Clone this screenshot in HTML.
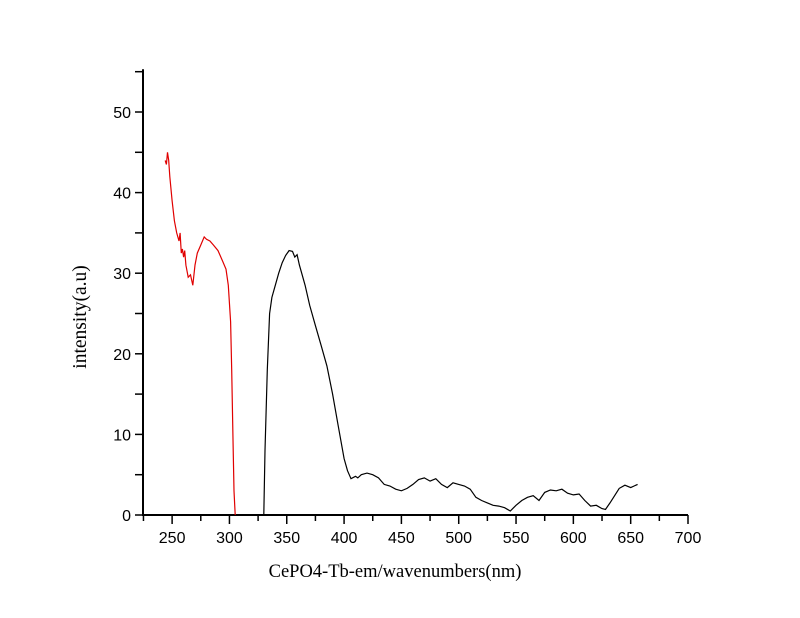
<!DOCTYPE html>
<html><head><meta charset="utf-8"><style>body{margin:0;background:#fff}svg{display:block}</style></head>
<body>
<svg id="c" width="800" height="618" xmlns="http://www.w3.org/2000/svg">
<g id="axes"></g>
<g id="marks"></g>
<text x="395" y="577" text-anchor="middle" font-family="Liberation Serif, serif" font-size="18.5">CePO4-Tb-em/wavenumbers(nm)</text>
<text transform="translate(86,317) rotate(-90)" text-anchor="middle" font-family="Liberation Serif, serif" font-size="19.5">intensity(a.u)</text>
</svg>
<script>
const xTicks=[250,300,350,400,450,500,550,600,650,700];
const yTicks=[0,10,20,30,40,50];
const redX=[244,245,246,247,248,250,252,254,256,257,258,259,260,261,262,264,266,268,270,272,275,278,280,283,286,290,294,297,299,301,302,303,304,305];
const redY=[44,43.5,45,44,42,39,36.5,35,34,35,32.5,33,32,32.8,31,29.5,29.8,28.5,31,32.5,33.5,34.5,34.2,34,33.5,32.8,31.5,30.5,28.5,24,18,10,3,0];
const blackX=[330,331,333,335,337,340,343,346,349,352,355,357,359,361,363,366,370,375,380,385,390,395,400,403,406,410,412,415,420,425,430,435,440,445,450,455,460,465,470,475,480,485,490,495,500,505,510,515,520,525,530,535,540,545,550,555,560,565,570,575,580,585,590,595,600,605,610,615,620,625,628,632,636,640,645,650,653,656];
const blackY=[0,8,18,25,27,28.5,30,31.3,32.2,32.8,32.7,32,32.3,31,30,28.5,26,23.5,21,18.5,15,11,7,5.5,4.5,4.8,4.6,5,5.2,5,4.6,3.8,3.6,3.2,3,3.3,3.8,4.4,4.6,4.2,4.5,3.8,3.4,4,3.8,3.6,3.2,2.2,1.8,1.5,1.2,1.1,0.9,0.5,1.2,1.8,2.2,2.4,1.8,2.8,3.1,3,3.2,2.7,2.5,2.6,1.8,1.1,1.2,0.8,0.7,1.5,2.4,3.3,3.7,3.4,3.6,3.8];
const X0=143,X1=688,xmin=224.6,xmax=700,Y0=515,ymax=55.3;
const sx=v=>X0+(v-xmin)/(xmax-xmin)*(X1-X0);
const sy=v=>Y0-v*80.6/10;
const NS='http://www.w3.org/2000/svg';
const ax=document.getElementById('axes'),mk=document.getElementById('marks');
function mkEl(t,a,p){const e=document.createElementNS(NS,t);for(const k in a)e.setAttribute(k,a[k]);p.appendChild(e);return e;}
let e=mkEl('line',{x1:X0,y1:Y0,x2:X1,y2:Y0,stroke:'#000','stroke-width':2},ax);


e=mkEl('line',{x1:X0,y1:Y0+1,x2:X0,y2:sy(ymax),stroke:'#000','stroke-width':2},ax);


for(let v=225;v<=700;v+=25){const maj=v%50==0;e=mkEl('line',{x1:sx(v),y1:Y0,x2:sx(v),y2:Y0+(maj?9:6),stroke:'#000','stroke-width':1.5},ax);

}
xTicks.forEach(v=>{e=mkEl('text',{x:sx(v),y:Y0+28,'text-anchor':'middle','font-family':'Liberation Sans, sans-serif','font-size':16},ax);e.textContent=v;

});
for(let v=0;v<=55;v+=5){e=mkEl('line',{x1:X0,y1:sy(v),x2:X0-8,y2:sy(v),stroke:'#000','stroke-width':1.5},ax);

}
yTicks.forEach(v=>{e=mkEl('text',{x:131,y:sy(v)+6,'text-anchor':'end','font-family':'Liberation Sans, sans-serif','font-size':16},ax);e.textContent=v;

});
function line(xs,ys,c,n){const d=xs.map((x,i)=>(i?'L':'M')+sx(x).toFixed(1)+','+sy(ys[i]).toFixed(1)).join('');
const p=mkEl('path',{d:d,fill:'none',stroke:c,'stroke-width':1.2},mk);

}
line(redX,redY,'#e00000','excitation-line');
line(blackX,blackY,'#000','emission-line');
</script>
</body></html>
